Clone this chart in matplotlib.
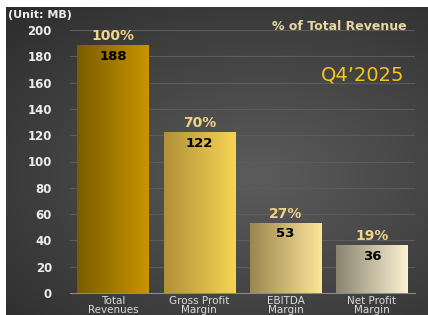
import numpy as np
import matplotlib
matplotlib.use("Agg")
from matplotlib import pyplot as plt
from matplotlib.colors import to_rgb

# 数据
categories = ["Total\nRevenues", "Gross Profit\nMargin", "EBITDA\nMargin", "Net Profit\nMargin"]
values = [188, 122, 53, 36]
percents = ["100%", "70%", "27%", "19%"]
# 每根柱子的渐变色（左 -> 右）
bar_colors = [("#7a5c00", "#c89400"),
              ("#b0913a", "#f7d452"),
              ("#9c8650", "#fbe59a"),
              ("#8c8470", "#fbf1d2")]

plt.rcParams['font.family'] = ['DejaVu Sans']

fig = plt.figure(figsize=(4.28, 3.15), dpi=100)
fig.patch.set_facecolor("white")

# 深色渐变背景
bg = fig.add_axes([6 / 428, 0, 1 - 6 / 428, 1 - 7 / 315])
bg.set_axis_off()
yy, xx = np.mgrid[0:1:200j, 0:1:300j]
dist = np.sqrt(((xx - 0.6) * 1.0) ** 2 + ((yy - 0.55) * 1.1) ** 2)
shade = np.clip(0.36 - 0.22 * dist, 0.15, 0.36)
bg.imshow(np.dstack([shade, shade, shade]), aspect='auto', extent=[0, 1, 0, 1])

ax = fig.add_axes([70 / 428, 22 / 315, 345 / 428, 263 / 315])
ax.patch.set_alpha(0)
x = np.arange(len(values))
bars = ax.bar(x, values, width=0.83, color='none', zorder=3)

for b, (c0, c1), v, p in zip(bars, bar_colors, values, percents):
    x0, w, h = b.get_x(), b.get_width(), b.get_height()
    t = np.linspace(0, 1, 64)[None, :, None]
    grad = np.array(to_rgb(c0))[None, None, :] * (1 - t) + np.array(to_rgb(c1))[None, None, :] * t
    ax.imshow(grad, extent=[x0, x0 + w, 0, h], aspect='auto', zorder=3)
    ax.text(x0 + w / 2, h + 2, p, ha='center', va='bottom', color="#f2d487",
            fontsize=10, fontweight='bold')
    ax.text(x0 + w / 2, h - 3, str(v), ha='center', va='top', color="black",
            fontsize=9.5, fontweight='bold')

ax.set_xlim(-0.5, 3.5)
ax.set_ylim(0, 200)
ax.set_yticks(range(0, 201, 20))
ax.yaxis.grid(True, color="#5c5c5c", lw=0.8, zorder=0)
ax.set_axisbelow(True)
for s in ["top", "right", "left"]:
    ax.spines[s].set_visible(False)
ax.spines["bottom"].set_color("#8a8a8a")
ax.set_xticks(x)
ax.set_xticklabels(categories, color="#dcdcdc", fontsize=7.5, linespacing=0.9)
ax.tick_params(axis='x', length=0, pad=2)
ax.tick_params(axis='y', length=0, pad=13, labelsize=8.5, labelcolor="#ececec")
for lbl in ax.get_yticklabels():
    lbl.set_fontweight('bold')

fig.text(8 / 428, 1 - 15 / 315, "(Unit: MB)", color="#ececec", fontsize=8,
         fontweight='bold', va='center', ha='left')
fig.text(407 / 428, 1 - 27 / 315, "% of Total Revenue", color="#e6d7a3", fontsize=9,
         fontweight='bold', va='center', ha='right')
fig.text(404 / 428, 1 - 75 / 315, "Q4\u20192025", color="#f5c518", fontsize=14,
         va='center', ha='right')

fig.savefig("out.png", dpi=100, facecolor=fig.get_facecolor())
